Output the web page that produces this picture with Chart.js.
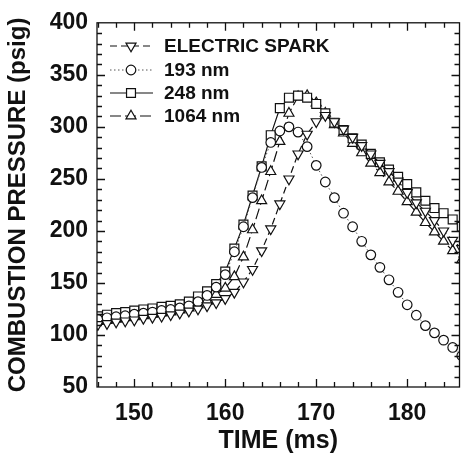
<!DOCTYPE html>
<html>
<head>
<meta charset="utf-8">
<script src="https://cdn.jsdelivr.net/npm/chart.js@4.4.0/dist/chart.umd.min.js"></script>
<style>
  body { margin: 0; background: #fff; }
</style>
</head>
<body>
<canvas id="pressureChart" width="467" height="462"></canvas>
<script>
// time axis (ms)
const timeMs = [146, 147, 148, 149, 150, 151, 152, 153, 154, 155, 156, 157, 158, 159, 160,
  161, 162, 163, 164, 165, 166, 167, 168, 169, 170, 171, 172, 173, 174, 175,
  176, 177, 178, 179, 180, 181, 182, 183, 184, 185, 186];

// combustion pressure (psig) per ignition source
const sparkPsig = [110, 111, 112.5, 113.5, 114.5, 116, 117, 118, 119.5, 121, 123, 125, 128, 131, 135,
  141, 151, 163, 181, 202, 226, 250, 274, 293, 305, 311, 305, 298, 290, 282,
  274, 265, 257, 248, 237, 227, 219, 210, 200, 191, 183];
const nm193Psig = [115, 116.5, 117.5, 118.5, 120, 121, 122, 123.5, 124.5, 126, 128, 132, 138, 146, 158,
  180, 204, 232, 261, 285, 296, 300, 295, 281, 263, 247, 232, 217, 204, 190,
  177, 165, 153, 141, 129, 119, 109, 102, 95, 88, 80];
const nm248Psig = [118, 119.5, 121, 122, 123.5, 124.5, 125.5, 127, 128, 129.5, 132, 137, 142, 149, 161,
  183, 206, 234, 262, 292, 318, 328, 330, 328, 322, 313, 304, 297, 289, 283,
  274, 266, 259, 252, 245, 237, 229, 222, 217, 211, 204];
const nm1064Psig = [113, 114, 115, 116.5, 117.5, 118.5, 120, 121, 122, 124, 126, 129, 133, 139, 145,
  156, 175, 201, 229, 257, 286, 313, 329, 330, 323, 313, 302, 294, 284, 275,
  265, 256, 247, 238, 228, 218, 208, 199, 190, 181, 172];

const seriesLabels = ['ELECTRIC SPARK', '193 nm', '248 nm', '1064 nm'];
const xTicks = [150, 160, 170, 180];
const yTicks = [50, 100, 150, 200, 250, 300, 350, 400];

const ink = '#111';
const fontFamily = '"Liberation Sans", Arial, Helvetica, sans-serif';

function toPoints(values) {
    return timeMs.map((t, i) => ({ x: t, y: values[i] }));
}

const styles = [
    { pointStyle: 'triangle', rotation: 180, radius: 5.8, dash: [7, 4], color: ink, width: 1.2 },
    { pointStyle: 'circle', rotation: 0, radius: 4.8, dash: [1.5, 2.5], color: '#555', width: 1 },
    { pointStyle: 'rect', rotation: 0, radius: 6.3, dash: [], color: ink, width: 1.2 },
    { pointStyle: 'triangle', rotation: 0, radius: 5.8, dash: [11, 4], color: ink, width: 1.2 }
];
const seriesData = [sparkPsig, nm193Psig, nm248Psig, nm1064Psig];

// inward ticks on all four sides, major + minor
const frameTicks = {
    id: 'frameTicks',
    afterDraw(chart) {
        const { ctx, chartArea: a, scales: { x, y } } = chart;
        ctx.save();
        ctx.strokeStyle = ink;
        ctx.lineWidth = 1.3;
        ctx.setLineDash([]);
        ctx.strokeRect(a.left, a.top, a.right - a.left, a.bottom - a.top);
        ctx.beginPath();
        for (let v = 146; v <= 185; v += 2) {
            const px = Math.round(x.getPixelForValue(v)) + 0.5;
            const len = v % 10 === 0 ? 8 : 5;
            ctx.moveTo(px, a.bottom); ctx.lineTo(px, a.bottom - len);
            ctx.moveTo(px, a.top); ctx.lineTo(px, a.top + len);
        }
        for (let v = 60; v < 400; v += 10) {
            const py = Math.round(y.getPixelForValue(v)) + 0.5;
            const len = v % 50 === 0 ? 8 : 5;
            ctx.moveTo(a.left, py); ctx.lineTo(a.left + len, py);
            ctx.moveTo(a.right, py); ctx.lineTo(a.right - len, py);
        }
        ctx.stroke();
        ctx.restore();
    }
};

// legend drawn inside the plot, upper left
const insideLegend = {
    id: 'insideLegend',
    afterDraw(chart) {
        const { ctx } = chart;
        const rowY = [46, 70, 93, 116];
        ctx.save();
        chart.data.datasets.forEach((ds, i) => {
            const s = styles[i];
            const yy = rowY[i];
            ctx.strokeStyle = s.color;
            ctx.lineWidth = s.width;
            ctx.setLineDash(s.dash);
            ctx.beginPath();
            ctx.moveTo(110, yy);
            ctx.lineTo(153, yy);
            ctx.stroke();
            ctx.setLineDash([]);
            ctx.fillStyle = '#fff';
            ctx.strokeStyle = ink;
            ctx.lineWidth = 1.2;
            Chart.helpers.drawPoint(ctx, {
                pointStyle: s.pointStyle, rotation: s.rotation, radius: s.radius, borderWidth: 1.2
            }, 131, yy);
            ctx.fillStyle = ink;
            ctx.font = 'bold 19px ' + fontFamily;
            ctx.textBaseline = 'middle';
            ctx.textAlign = 'left';
            ctx.fillText(ds.label, 164, yy + 1);
        });
        ctx.restore();
    }
};

const ctx = document.getElementById('pressureChart').getContext('2d');
new Chart(ctx, {
    type: 'line',
    data: {
        datasets: seriesLabels.map((label, i) => ({
            label: label,
            data: toPoints(seriesData[i]),
            borderColor: styles[i].color,
            borderWidth: styles[i].width,
            borderDash: styles[i].dash,
            pointStyle: styles[i].pointStyle,
            pointRotation: styles[i].rotation,
            pointRadius: styles[i].radius,
            pointBorderWidth: 1.2,
            pointBorderColor: ink,
            pointBackgroundColor: '#fff',
            tension: 0,
            fill: false
        }))
    },
    options: {
        responsive: false,
        animation: false,
        layout: {
            padding: { top: 20, right: 2, left: 0, bottom: 0 }
        },
        plugins: {
            legend: { display: false },
            tooltip: { enabled: false }
        },
        scales: {
            x: {
                type: 'linear',
                min: 145.9,
                max: 185.75,
                afterBuildTicks: (scale) => { scale.ticks = xTicks.map(v => ({ value: v })); },
                afterFit: (scale) => { scale.height = 75; },
                grid: { display: false, drawTicks: false },
                border: { display: false },
                ticks: {
                    color: ink,
                    padding: 13,
                    font: { family: fontFamily, size: 23, weight: 'bold' }
                },
                title: {
                    display: true,
                    text: 'TIME (ms)',
                    color: ink,
                    padding: { top: 0, bottom: 6 },
                    font: { family: fontFamily, size: 25, weight: 'bold' }
                }
            },
            y: {
                min: 50,
                max: 400,
                afterBuildTicks: (scale) => { scale.ticks = yTicks.map(v => ({ value: v })); },
                afterFit: (scale) => { scale.width = 97; },
                grid: { display: false, drawTicks: false },
                border: { display: false },
                ticks: {
                    color: ink,
                    padding: 9,
                    font: { family: fontFamily, size: 23, weight: 'bold' }
                },
                title: {
                    display: true,
                    text: 'COMBUSTION PRESSURE (psig)',
                    color: ink,
                    padding: { top: 4, bottom: 0 },
                    font: { family: fontFamily, size: 24, weight: 'bold' }
                }
            }
        }
    },
    plugins: [frameTicks, insideLegend]
});
</script>
</body>
</html>
